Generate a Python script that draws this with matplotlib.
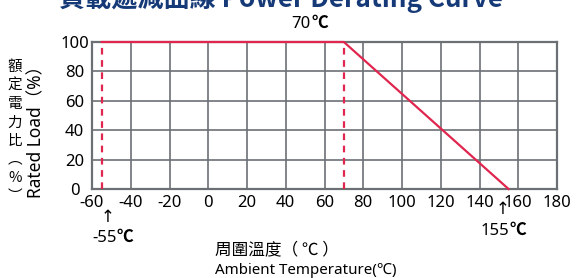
import matplotlib
matplotlib.use('Agg')
import matplotlib.pyplot as plt

plt.rcParams['font.family'] = ['Noto Sans', 'Noto Sans CJK TC', 'DejaVu Sans']

# データ
temp = [-55, 70, 155]
load = [100, 100, 0]
marks = [-55, 70]
xticks = list(range(-60, 181, 20))
yticks = list(range(0, 101, 20))

W, H = 580, 278
RED = '#e0264f'
GRID = '#6c6f74'
NAVY = '#163a78'
CJK = ['Noto Sans CJK TC', 'DejaVu Sans']


def px(x, y):
    # ピクセル座標 -> figure 座標
    return x / W, 1 - y / H


fig = plt.figure(figsize=(W / 100, H / 100), dpi=100)
ax = fig.add_axes([92 / W, 1 - 189 / H, (557 - 92) / W, (189 - 42) / H])
ax.set_xlim(-60, 180)
ax.set_ylim(0, 100)
ax.set_xticks(xticks)
ax.set_yticks(yticks)
ax.set_xticklabels([str(v) for v in xticks], fontsize=12)
ax.set_yticklabels([str(v) for v in yticks], fontsize=12, ha='center')
ax.tick_params(axis='x', length=0, pad=4.5)
ax.tick_params(axis='y', length=0, pad=12.5)
ax.grid(True, color=GRID, linewidth=1.2)
for s in ax.spines.values():
    s.set_color(GRID)
    s.set_linewidth(1.6)

ax.plot(temp, load, color=RED, linewidth=1.6, clip_on=False, zorder=5)
for m in marks:
    ax.plot([m, m], [0, 100], color=RED, linewidth=1.6, linestyle=(0, (3, 2.5)), zorder=4)

# タイトル（上端で切れている）
fig.text(*px(281, 7), '負載遞減曲線 Power Derating Curve', ha='center', va='baseline',
         fontsize=18.8, fontweight='bold', color=NAVY, family=CJK)

# 温度注記
fig.text(*px(311, 28), '70', ha='right', va='baseline', fontsize=12)
fig.text(*px(311, 28), '℃', ha='left', va='baseline', fontsize=12, fontweight='bold', family=CJK)
fig.text(*px(108, 217), '↑', ha='center', va='center', fontsize=12, family=['DejaVu Sans'])
fig.text(*px(117, 242), '-55', ha='right', va='baseline', fontsize=12)
fig.text(*px(117, 242), '℃', ha='left', va='baseline', fontsize=12, fontweight='bold', family=CJK)
fig.text(*px(503, 209), '↑', ha='center', va='center', fontsize=12, family=['DejaVu Sans'])
fig.text(*px(509, 235), '155', ha='right', va='baseline', fontsize=12)
fig.text(*px(509, 235), '℃', ha='left', va='baseline', fontsize=12, fontweight='bold', family=CJK)

# 軸ラベル
fig.text(*px(215, 250), '周圍溫度（ ℃ ）', ha='left', va='center', fontsize=12, family=CJK)
fig.text(*px(215, 270), 'Ambient Temperature(℃)', ha='left', va='center', fontsize=10.9,
         family=['Noto Sans', 'Noto Sans CJK TC'])

# 縦書きラベル（1 文字ずつ積む）
for i, ch in enumerate('額定電力比︵%︶'):
    fig.text(*px(15, 67 + i * 18.5), ch, ha='center', va='center', fontsize=10.5, family=CJK)
fig.text(*px(36, 127), 'Rated Load（%）', ha='center', va='center', fontsize=12.5, rotation=90,
         family=['Noto Sans', 'Noto Sans CJK TC'])

fig.savefig('out.png', dpi=100)
